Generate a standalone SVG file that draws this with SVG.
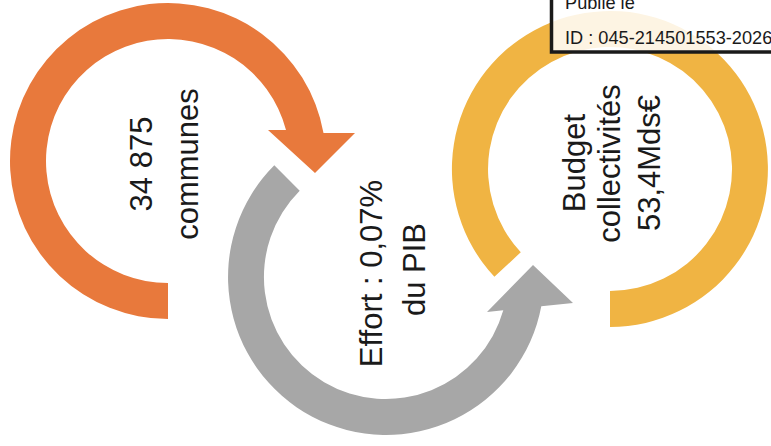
<svg xmlns="http://www.w3.org/2000/svg" width="771" height="446" viewBox="0 0 771 446">
<style>
.lbl{font-family:"Liberation Sans",Arial,sans-serif;font-size:31px;fill:#1a1a1a;text-anchor:middle}
.stamp{font-family:"Liberation Sans",Arial,sans-serif;font-size:18.2px;fill:#1a1a1a}
</style>
<rect width="771" height="446" fill="#ffffff"/>
<g id="connectors">
  <path id="arrow-orange" d="M 168 319 A 158 158 0 1 1 323.5 133 L 355 133 L 315 173 L 268 130 L 286 130 A 122 122 0 1 0 168 283 Z" fill="#E8793C"/>
  <path id="arrow-gray" d="M 274.3 165.3 A 158 158 0 1 0 541.3 306.3 L 573 303 L 533 265 L 487 312 L 503.3 310.3 A 122 122 0 1 1 299.7 190.7 Z" fill="#A7A7A7"/>
  <path id="ring-yellow" d="M 494.4 276.8 A 158 158 0 1 1 610 327 L 610 291 A 122 122 0 1 0 520.8 252.2 Z" fill="#F0B443"/>
</g>
<g id="node-communes">
  <text class="lbl" transform="translate(152,164) rotate(-90)">34 875</text>
  <text class="lbl" transform="translate(198,164) rotate(-90)">communes</text>
</g>
<g id="node-effort">
  <text class="lbl" transform="translate(382,273.5) rotate(-90)">Effort : 0,07%</text>
  <text class="lbl" transform="translate(425,269.5) rotate(-90)">du PIB</text>
</g>
<g id="node-budget">
  <text class="lbl" transform="translate(585,163) rotate(-90)">Budget</text>
  <text class="lbl" transform="translate(620,163.5) rotate(-90)">collectivités</text>
  <text class="lbl" transform="translate(660,163) rotate(-90)">53,4Mds€</text>
</g>
<g id="stamp">
  <rect x="551.5" y="-10" width="240" height="62" fill="#ffffff" fill-opacity="0.85" stroke="#1a1a1a" stroke-width="3.5"/>
  <text class="stamp" x="565" y="9">Publié le</text>
  <text class="stamp" x="565" y="44">ID : 045-214501553-2026</text>
</g>
</svg>
